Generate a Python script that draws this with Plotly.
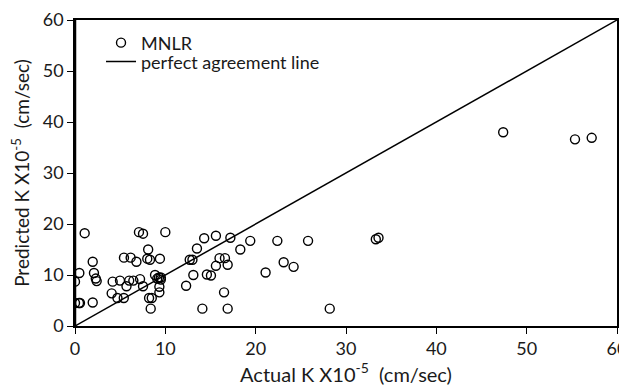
import plotly.graph_objects as go

actual_k = [0, 0, 0.44, 0.55, 0.48, 1.07, 1.96, 1.96, 2.1, 2.3, 2.4, 4.06, 4.17, 4.7, 4.98,
            5.4, 5.42, 5.7, 6.0, 6.16, 6.46, 6.8, 7.08, 7.2, 7.53, 7.53, 8.0, 8.1, 8.2, 8.3,
            8.38, 8.5, 8.86, 9.1, 9.3, 9.34, 9.34, 9.4, 9.5, 9.5, 10.0, 12.3, 12.7, 13.0,
            13.1, 13.5, 14.1, 14.3, 14.6, 15.05, 15.6, 15.6, 16.0, 16.5, 16.6, 16.9, 16.9,
            17.2, 18.3, 19.4, 21.1, 22.4, 23.1, 24.2, 25.8, 28.2, 33.3, 33.6, 47.4, 55.35, 57.2]
predicted_k = [8.7, 4.5, 4.5, 4.5, 10.4, 18.2, 12.6, 4.6, 10.4, 9.3, 8.8, 6.4, 8.7, 5.5, 8.9,
               5.5, 13.4, 7.8, 8.9, 13.4, 8.9, 12.6, 18.4, 9.2, 18.1, 7.8, 13.2, 15.0, 5.5, 13.0,
               3.4, 5.5, 10.0, 9.3, 9.5, 6.6, 7.7, 13.2, 9.1, 9.5, 18.4, 7.9, 13.0, 13.0,
               10.0, 15.2, 3.4, 17.2, 10.1, 9.9, 11.8, 17.7, 13.3, 6.6, 13.3, 12.0, 3.4,
               17.3, 15.0, 16.7, 10.5, 16.7, 12.5, 11.6, 16.7, 3.4, 17.0, 17.3, 38.0, 36.6, 36.9]
line_x = [0, 60]
line_y = [0, 60]
x_ticks = [0, 10, 20, 30, 40, 50, 60]
y_ticks = [0, 10, 20, 30, 40, 50, 60]

FONT = "Lato, Open Sans, sans-serif"
TXT = "#1a1a1a"

fig = go.Figure()
fig.add_trace(go.Scatter(
    x=actual_k, y=predicted_k, mode="markers", name="MNLR", legend="legend",
    marker=dict(symbol="circle-open", size=9, color="black", line=dict(width=1.4, color="black")),
))
fig.add_trace(go.Scatter(
    x=line_x, y=line_y, mode="lines", name="perfect agreement line", legend="legend2",
    line=dict(color="black", width=1.5),
))

leg_common = dict(xanchor="left", yanchor="middle", bgcolor="rgba(0,0,0,0)",
                  font=dict(size=18, color=TXT, family=FONT), itemwidth=30)

# page body has an 8px margin, so the figure is shrunk by 8px and margins compensate
fig.update_layout(
    width=619, height=379,
    margin=dict(l=67, r=10, t=12, b=61),
    paper_bgcolor="white", plot_bgcolor="white",
    font=dict(family=FONT, size=18, color=TXT),
    showlegend=True,
    legend=dict(x=0.048, y=0.925, **leg_common),
    legend2=dict(x=0.048, y=0.863, **leg_common),
    xaxis=dict(range=[0, 60], tickvals=x_ticks, ticks="outside", ticklen=6, tickcolor="black",
               showline=True, linecolor="black", linewidth=1.5, mirror=True, showgrid=False,
               zeroline=False, tickfont=dict(size=18), automargin=False, ticklabeloverflow="allow",
               title=dict(text="Actual K X10<sup>-5</sup>  (cm/sec)", font=dict(size=20), standoff=6)),
    yaxis=dict(range=[0, 60], tickvals=y_ticks, ticks="outside", ticklen=6, tickcolor="black",
               showline=True, linecolor="black", linewidth=1.5, mirror=True, showgrid=False,
               zeroline=False, tickfont=dict(size=18), automargin=False, ticklabeloverflow="allow",
               title=dict(text="Predicted K X10<sup>-5</sup>  (cm/sec)", font=dict(size=19), standoff=12)),
)
fig.add_shape(type="line", xref="paper", yref="paper", x0=0, x1=0, y0=0, y1=1,
              line=dict(color="black", width=2.5))

fig.write_html("out.html")
